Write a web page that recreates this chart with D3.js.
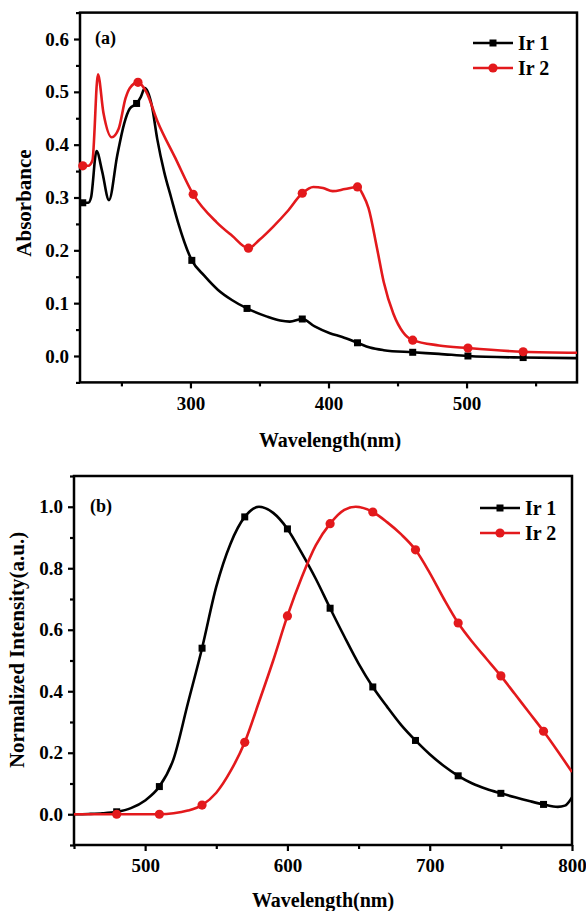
<!DOCTYPE html>
<html>
<head>
<meta charset="utf-8">
<script src="https://cdn.jsdelivr.net/npm/d3@7"></script>
<style>
  body { margin: 0; background: #fff; }
  svg { display: block; font-family: "Liberation Serif", "Times New Roman", serif; font-weight: bold; }
</style>
</head>
<body>
<script>
// ---- data ----
// (a) absorption
const absIr1Wl = [220, 222, 226, 228, 232, 236, 241, 247, 252, 256, 261, 264, 267, 272, 276, 281, 286, 291, 301, 310, 320, 330, 341, 355, 365, 372, 381, 390, 401, 410, 421, 430, 440, 461, 480, 501, 541, 580];
const absIr1 = [0.29, 0.29, 0.29, 0.30, 0.388, 0.35, 0.295, 0.38, 0.44, 0.468, 0.478, 0.49, 0.507, 0.474, 0.41, 0.348, 0.30, 0.253, 0.181, 0.152, 0.125, 0.106, 0.09, 0.075, 0.067, 0.065, 0.07, 0.056, 0.043, 0.036, 0.025, 0.016, 0.011, 0.007, 0.004, 0.0, -0.003, -0.004];
const absIr2Wl = [220, 222, 226, 229, 233, 237, 243, 248, 253, 256, 262, 268, 276, 289, 302, 319, 330, 342, 350, 360, 370, 381, 389, 396, 403, 412, 421, 425, 429, 435, 440, 447, 454, 461, 480, 501, 541, 580];
const absIr2 = [0.36, 0.36, 0.36, 0.37, 0.533, 0.46, 0.414, 0.43, 0.488, 0.507, 0.518, 0.50, 0.445, 0.375, 0.306, 0.253, 0.228, 0.204, 0.22, 0.245, 0.273, 0.308, 0.32, 0.318, 0.312, 0.316, 0.32, 0.305, 0.28, 0.206, 0.14, 0.08, 0.045, 0.03, 0.02, 0.015, 0.008, 0.006];
const absIr1Markers = [222, 261, 301, 341, 381, 421, 461, 501, 541];
const absIr2Markers = [222, 262, 302, 342, 381, 421, 461, 501, 541];

// (b) emission
const emWl = [450, 460, 470, 480, 490, 500, 510, 520, 530, 540, 550, 560, 570, 580, 590, 600, 610, 620, 630, 640, 650, 660, 670, 680, 690, 700, 710, 720, 730, 740, 750, 760, 770, 780, 790, 795, 800];
const emIr1 = [0.0, 0.001, 0.003, 0.008, 0.02, 0.045, 0.09, 0.18, 0.36, 0.54, 0.74, 0.88, 0.967, 1.0, 0.98, 0.928, 0.85, 0.765, 0.67, 0.578, 0.49, 0.414, 0.35, 0.29, 0.24, 0.195, 0.157, 0.125, 0.1, 0.082, 0.068, 0.055, 0.043, 0.032, 0.024, 0.028, 0.055];
const emIr2Wl = [450, 480, 510, 520, 530, 540, 550, 560, 570, 580, 590, 600, 610, 620, 630, 640, 648, 660, 670, 680, 690, 700, 710, 720, 730, 740, 750, 760, 770, 780, 790, 800];
const emIr2 = [0.0, 0.0, 0.0, 0.003, 0.012, 0.03, 0.07, 0.14, 0.234, 0.365, 0.5, 0.645, 0.77, 0.875, 0.945, 0.99, 1.0, 0.983, 0.95, 0.91, 0.86, 0.785, 0.7, 0.622, 0.56, 0.505, 0.45, 0.39, 0.33, 0.27, 0.205, 0.137];
const emMarkers = [480, 510, 540, 570, 600, 630, 660, 690, 720, 750, 780];

const seriesNames = ["Ir 1", "Ir 2"];
const colors = ["#000000", "#e3191c"];

const absXTicks = [300, 400, 500];
const absXMinor = [250, 350, 450, 550];
const absYTicks = [0.0, 0.1, 0.2, 0.3, 0.4, 0.5, 0.6];
const absYMinor = [-0.05, 0.05, 0.15, 0.25, 0.35, 0.45, 0.55, 0.65];
const emXTicks = [500, 600, 700, 800];
const emXMinor = [450, 550, 650, 750];
const emYTicks = [0.0, 0.2, 0.4, 0.6, 0.8, 1.0];
const emYMinor = [-0.1, 0.1, 0.3, 0.5, 0.7, 0.9, 1.1];

const W = 586, H = 911;
const svg = d3.select("body").append("svg").attr("width", W).attr("height", H);

function toPoints(wl, vals) {
  return wl.map((w, i) => ({ x: w, y: vals[i] }));
}

function drawPanel(p) {
  const x = d3.scaleLinear().domain(p.xDomain).range([p.left, p.right]);
  const y = d3.scaleLinear().domain(p.yDomain).range([p.bottom, p.top]);
  const g = svg.append("g");

  const clipId = "clip-" + p.tag;
  g.append("clipPath").attr("id", clipId)
    .append("rect").attr("x", p.left).attr("y", p.top)
    .attr("width", p.right - p.left).attr("height", p.bottom - p.top);

  // axes
  const yAxis = g.append("g").attr("transform", `translate(${p.left},0)`)
    .call(d3.axisLeft(y).tickValues(p.yTicks).tickSize(6).tickPadding(5).tickFormat(d3.format(".1f")));
  const yMinor = g.append("g").attr("transform", `translate(${p.left},0)`)
    .call(d3.axisLeft(y).tickValues(p.yMinor).tickSize(4).tickFormat(""));
  const xAxis = g.append("g").attr("transform", `translate(0,${p.bottom})`)
    .call(d3.axisBottom(x).tickValues(p.xTicks).tickSize(6).tickPadding(8).tickFormat(d3.format("d")));
  const xMinor = g.append("g").attr("transform", `translate(0,${p.bottom})`)
    .call(d3.axisBottom(x).tickValues(p.xMinor).tickSize(4).tickFormat(""));
  [yAxis, yMinor, xAxis, xMinor].forEach(a => {
    a.select(".domain").remove();
    a.selectAll(".tick line").attr("stroke", "#000").attr("stroke-width", 2.2);
    a.selectAll(".tick text").attr("fill", "#000")
      .style("font-size", "19px").style("font-weight", "bold")
      .style("font-family", "'Liberation Serif', 'Times New Roman', serif");
  });

  // frame
  g.append("rect").attr("x", p.left).attr("y", p.top)
    .attr("width", p.right - p.left).attr("height", p.bottom - p.top)
    .attr("fill", "none").attr("stroke", "#000").attr("stroke-width", 2.5);

  // curves
  const line = d3.line().x(d => x(d.x)).y(d => y(d.y)).curve(d3.curveMonotoneX);
  p.series.forEach((s, i) => {
    const pts = toPoints(s.wl, s.vals);
    g.append("path").datum(pts)
      .attr("clip-path", `url(#${clipId})`)
      .attr("fill", "none").attr("stroke", colors[i]).attr("stroke-width", 2.6)
      .attr("stroke-linejoin", "round").attr("d", line);
    const mk = pts.filter(d => s.markers.includes(d.x));
    if (i === 0) {
      g.selectAll(null).data(mk).enter().append("rect")
        .attr("x", d => x(d.x) - 3.5).attr("y", d => y(d.y) - 3.5)
        .attr("width", 7).attr("height", 7).attr("fill", colors[i]);
    } else {
      g.selectAll(null).data(mk).enter().append("circle")
        .attr("cx", d => x(d.x)).attr("cy", d => y(d.y))
        .attr("r", 4.6).attr("fill", colors[i]);
    }
  });

  // legend
  seriesNames.forEach((name, i) => {
    const ly = p.legendY + i * 25;
    g.append("line").attr("x1", p.legendX).attr("x2", p.legendX + 40)
      .attr("y1", ly).attr("y2", ly).attr("stroke", colors[i]).attr("stroke-width", 2.6);
    if (i === 0) {
      g.append("rect").attr("x", p.legendX + 16.5).attr("y", ly - 3.5)
        .attr("width", 7).attr("height", 7).attr("fill", colors[i]);
    } else {
      g.append("circle").attr("cx", p.legendX + 20).attr("cy", ly).attr("r", 4.6).attr("fill", colors[i]);
    }
    g.append("text").attr("x", p.legendX + 45).attr("y", ly + 6.5)
      .style("font-size", "20px").text(name);
  });

  // panel label
  g.append("text").attr("x", p.labelX).attr("y", p.labelY)
    .style("font-size", "18px").text(p.label);

  // axis titles
  g.append("text").attr("x", p.xTitleX).attr("y", p.xTitleY)
    .attr("text-anchor", "middle").style("font-size", "20px").text("Wavelength(nm)");
  g.append("text").attr("transform", `translate(${p.yTitleX},${p.yTitleY}) rotate(-90)`)
    .attr("text-anchor", "middle").style("font-size", "21px").text(p.yTitle);
}

drawPanel({
  tag: "a", left: 80, right: 577, top: 12.6, bottom: 382.4,
  xDomain: [220, 580], yDomain: [-0.05, 0.65],
  xTicks: absXTicks, xMinor: absXMinor, yTicks: absYTicks, yMinor: absYMinor,
  series: [
    { wl: absIr1Wl, vals: absIr1, markers: absIr1Markers },
    { wl: absIr2Wl, vals: absIr2, markers: absIr2Markers }
  ],
  legendX: 473, legendY: 43,
  label: "(a)", labelX: 95, labelY: 44,
  xTitleX: 330, xTitleY: 447,
  yTitle: "Absorbance", yTitleX: 31, yTitleY: 203
});

drawPanel({
  tag: "b", left: 74, right: 572, top: 476, bottom: 845,
  xDomain: [450, 800], yDomain: [-0.1, 1.1],
  xTicks: emXTicks, xMinor: emXMinor, yTicks: emYTicks, yMinor: emYMinor,
  series: [
    { wl: emWl, vals: emIr1, markers: emMarkers },
    { wl: emIr2Wl, vals: emIr2, markers: emMarkers }
  ],
  legendX: 480, legendY: 508,
  label: "(b)", labelX: 90, labelY: 512,
  xTitleX: 323, xTitleY: 907,
  yTitle: "Normalized Intensity(a.u.)", yTitleX: 24, yTitleY: 650
});
</script>
</body>
</html>
